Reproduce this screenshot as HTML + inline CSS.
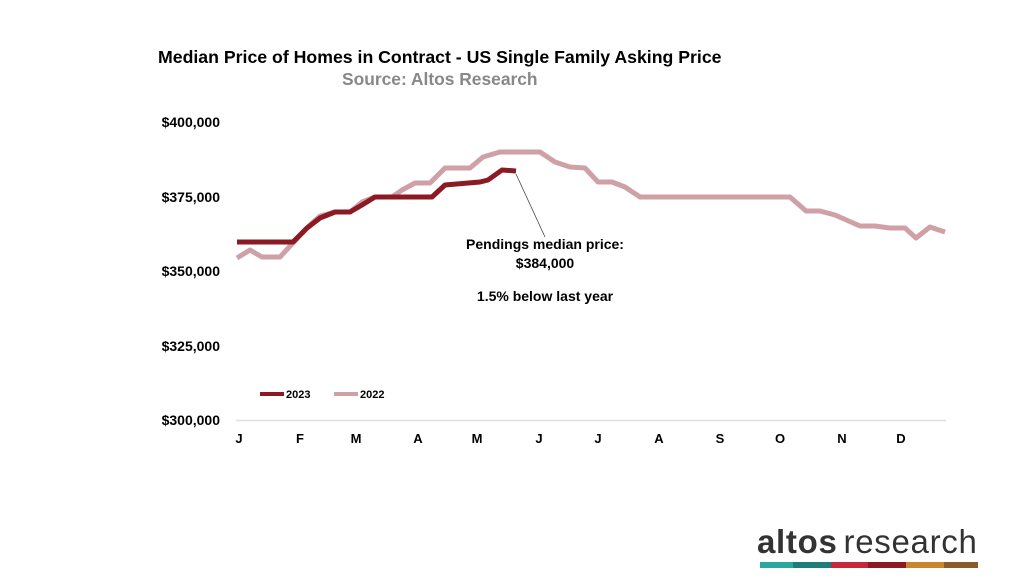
<!DOCTYPE html>
<html><head><meta charset="utf-8"><style>
body{margin:0;width:1024px;height:576px;background:#fff;overflow:hidden;font-family:"Liberation Sans",Arial,sans-serif}
</style></head><body>
<svg width="1024" height="576" viewBox="0 0 1024 576" xmlns="http://www.w3.org/2000/svg" font-family="Liberation Sans, Arial, sans-serif">
<text x="158" y="63" font-size="17.7" font-weight="bold" fill="#000">Median Price of Homes in Contract - US Single Family Asking Price</text>
<text x="342" y="85" font-size="17.4" font-weight="bold" fill="#888">Source: Altos Research</text>
<g font-size="14" font-weight="bold" fill="#000" text-anchor="end">
<text x="220" y="127">$400,000</text>
<text x="220" y="202">$375,000</text>
<text x="220" y="276">$350,000</text>
<text x="220" y="351">$325,000</text>
<text x="220" y="425">$300,000</text>
</g>
<line x1="236" y1="420.5" x2="946" y2="420.5" stroke="#e0e0e0" stroke-width="1.5"/>
<g font-size="13" font-weight="bold" fill="#000" text-anchor="middle">
<text x="239" y="443">J</text><text x="300" y="443">F</text><text x="356" y="443">M</text><text x="418" y="443">A</text><text x="477" y="443">M</text><text x="539" y="443">J</text><text x="598" y="443">J</text><text x="659" y="443">A</text><text x="720" y="443">S</text><text x="780" y="443">O</text><text x="842" y="443">N</text><text x="901" y="443">D</text>
</g>
<polyline fill="none" stroke="#cfa1a7" stroke-width="5" stroke-linejoin="round" points="237,258 250,250 262,257 280,257 293,243 307,228 320,216 335,212 350,212 362,202 375,197 392,197 402,190 415,183 430,183 445,168 470,168 483,157 500,152 540,152 555,162 570,167 585,168 598,182 612,182 625,187 640,197 790,197 806,211 820,211 835,215 860,226 875,226 890,228 905,228 916,238 930,227 945,232"/>
<polyline fill="none" stroke="#8b1a24" stroke-width="5" stroke-linejoin="round" points="237,242 293,242 307,228 320,218 335,212 350,212 362,205 375,197 432,197 445,185 480,182 488,180 502,170 516,171"/>
<line x1="516" y1="174" x2="545" y2="237" stroke="#444" stroke-width="0.8"/>
<g font-size="14" font-weight="bold" fill="#000" text-anchor="middle">
<text x="545" y="249">Pendings median price:</text>
<text x="545" y="268">$384,000</text>
<text x="545" y="301">1.5% below last year</text>
</g>
<line x1="260" y1="394" x2="284" y2="394" stroke="#8b1a24" stroke-width="4"/>
<text x="286" y="398" font-size="11" font-weight="bold">2023</text>
<line x1="334" y1="394" x2="358" y2="394" stroke="#cfa1a7" stroke-width="4"/>
<text x="360" y="398" font-size="11" font-weight="bold">2022</text>
<text x="757" y="553" font-size="33" fill="#333" letter-spacing="0.7"><tspan font-weight="bold">altos</tspan><tspan dx="6">research</tspan></text>
<rect x="760" y="562" width="33" height="6" fill="#2aa8a0"/>
<rect x="793" y="562" width="38" height="6" fill="#1e7d7a"/>
<rect x="831" y="562" width="37" height="6" fill="#c4283a"/>
<rect x="868" y="562" width="38" height="6" fill="#8b1a24"/>
<rect x="906" y="562" width="38" height="6" fill="#c8862e"/>
<rect x="944" y="562" width="34" height="6" fill="#8a5a2a"/>
</svg>
</body></html>
